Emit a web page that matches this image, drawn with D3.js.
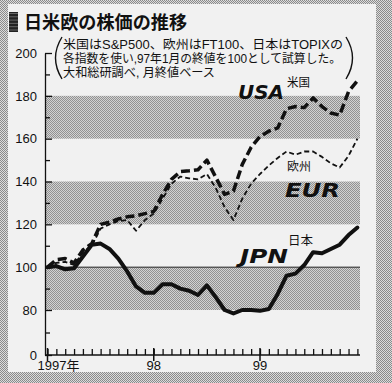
<!DOCTYPE html>
<html><head><meta charset="utf-8">
<script src="https://cdn.jsdelivr.net/npm/d3@7"></script>
<style>body{margin:0;background:#fff}svg{display:block}</style>
</head><body><svg id="c" width="392" height="383"></svg>
<script>
// ---- data ----
const months = ["97/01","97/02","97/03","97/04","97/05","97/06","97/07","97/08","97/09","97/10","97/11","97/12",
                "98/01","98/02","98/03","98/04","98/05","98/06","98/07","98/08","98/09","98/10","98/11","98/12",
                "99/01","99/02","99/03","99/04","99/05","99/06","99/07","99/08","99/09","99/10","99/11","99/12"];
const usa = [100,103.5,104,102,108,111,120,121,122.5,123.5,124,125,
             126,134,141,144.6,145,145.5,150,142,134,135.5,148,156,
             161,163.5,165,174,175,174.5,179,175,172,171,182,187];
const eur = [100,102,102.5,101,107,110,118,120,121.5,122,117,122,
             125,132,139,142.3,141.5,141,143.5,137,128,122,132,139,
             143.5,147.5,151,154,152.5,154,154,151.5,148.5,146.5,152,160];
const jpn = [100,100.5,99,99.5,105,110.5,111,108.5,104,98,91,88,
             88,92,92,90,89,87,91.5,86,80,74,80,80,
             78.5,80.5,87.5,96,97,101,107,106.5,108.5,110.5,115,118.5];
const yMajorTicks = [0,80,100,120,140,160,180,200];
const yMinorTicks = [40,90,110,130,150,170,190];
const yearTicks = ["97/01","98/01","99/01"];
const yearTickLabels = ["1997年","98","99"];
const shadedBands = [[80,100],[120,140],[160,180]];
const titleText = "日米欧の株価の推移";
const noteLines = ["米国はS&P500、欧州はFT100、日本はTOPIXの",
                   "各指数を使い,97年1月の終値を100として試算した。",
                   "大和総研調べ, 月終値ベース"];

// ---- drawing ----
const svg = d3.select("#c");
const W = 392, H = 383;
const plotL = 45, plotR = 360;
const paper = "#f1f1f1";

const defs = svg.append("defs");
const pat = defs.append("pattern").attr("id","ht").attr("width",2).attr("height",2)
  .attr("patternUnits","userSpaceOnUse");
pat.append("rect").attr("width",2).attr("height",2).attr("fill","#dcdcdc");
pat.append("rect").attr("width",1).attr("height",1).attr("fill","#8a8a8a");
pat.append("rect").attr("x",1).attr("y",1).attr("width",1).attr("height",1).attr("fill","#8a8a8a");
const pat2 = defs.append("pattern").attr("id","ht2").attr("width",2).attr("height",2)
  .attr("patternUnits","userSpaceOnUse");
pat2.append("rect").attr("width",2).attr("height",2).attr("fill","#d2d2d2");
pat2.append("rect").attr("width",1).attr("height",1).attr("fill","#929292");
pat2.append("rect").attr("x",1).attr("y",1).attr("width",1).attr("height",1).attr("fill","#929292");

// frame
svg.append("rect").attr("width",W).attr("height",H).attr("fill","url(#ht)");
svg.append("rect").attr("x",8).attr("y",4).attr("width",368).attr("height",368).attr("fill",paper);

const x = d3.scalePoint().domain(months).range([47.5, 357.4]);
const y = d3.scaleLinear().domain([0, 80, 200]).range([355, 310, 53]);

// bands
svg.append("g").selectAll("rect").data(shadedBands).join("rect")
  .attr("x", plotL).attr("width", plotR - plotL)
  .attr("y", d => y(d[1])).attr("height", d => y(d[0]) - y(d[1]))
  .attr("fill","url(#ht2)");

// 100 line
svg.append("line").attr("x1",plotL).attr("x2",plotR).attr("y1",y(100)).attr("y2",y(100))
  .attr("stroke","#222").attr("stroke-width",1);

// y axis
const yAxis = svg.append("g").attr("transform",`translate(${plotL},0)`)
  .call(d3.axisLeft(y).tickValues(yMajorTicks).tickSize(-7).tickSizeOuter(0).tickPadding(8)
        .tickFormat(d3.format("d")));
yAxis.selectAll("text").attr("font-family","Liberation Sans, Arial, sans-serif").attr("font-size",13).attr("fill","#111");
yAxis.selectAll("line,path").attr("stroke","#111").attr("stroke-width",1.3);
const yMinor = svg.append("g").attr("transform",`translate(${plotL},0)`)
  .call(d3.axisLeft(y).tickValues(yMinorTicks).tickSize(-5).tickSizeOuter(0).tickFormat(""));
yMinor.select(".domain").remove();
yMinor.selectAll("line").attr("stroke","#111").attr("stroke-width",1.3);

// x axis
const xAxis = svg.append("g").attr("transform",`translate(0,${y(0)})`)
  .call(d3.axisBottom(x).tickSize(-6).tickSizeOuter(0).tickFormat(""));
xAxis.select(".domain").remove();
xAxis.selectAll("line").attr("stroke","#111").attr("stroke-width",1.3);
svg.append("line").attr("x1",plotL).attr("x2",plotR).attr("y1",y(0)).attr("y2",y(0))
  .attr("stroke","#111").attr("stroke-width",1.3);
const yt = svg.append("g").selectAll("g").data(yearTicks).join("g");
yt.append("line").attr("x1",d=>x(d)).attr("x2",d=>x(d)).attr("y1",y(0)-7).attr("y2",y(0)+6)
  .attr("stroke","#111").attr("stroke-width",1.5);
yt.append("text").attr("x",(d,i)=>x(d) + (i===0 ? -10 : 0)).attr("y",y(0)+15)
  .attr("text-anchor",(d,i)=> i===0 ? "start" : "middle")
  .attr("font-family","Liberation Sans, Noto Sans CJK JP, sans-serif").attr("font-size",13).attr("fill","#111")
  .text((d,i)=>yearTickLabels[i]);

// series
const line = d3.line().x((d,i)=>x(months[i])).y(d=>y(d));
svg.append("path").datum(eur).attr("d",line).attr("fill","none").attr("stroke","#111")
  .attr("stroke-width",1.8).attr("stroke-dasharray","5,3").attr("stroke-linejoin","round");
svg.append("path").datum(usa).attr("d",line).attr("fill","none").attr("stroke","#111")
  .attr("stroke-width",3.5).attr("stroke-dasharray","9,4").attr("stroke-linejoin","round");
svg.append("path").datum(jpn).attr("d",line).attr("fill","none").attr("stroke","#111")
  .attr("stroke-width",4).attr("stroke-linejoin","round").attr("stroke-linecap","round");

// series labels
const jp = "Noto Sans CJK JP, sans-serif";
const mixed = "Liberation Sans, Noto Sans CJK JP, sans-serif";
const hand = "DejaVu Sans, sans-serif";
function lab(t, xx, yy, size, len, font, opts={}) {
  const e = svg.append("text").attr("x",xx).attr("y",yy).attr("font-family",font).attr("font-size",size)
    .attr("fill","#111").attr("textLength",len).attr("lengthAdjust","spacingAndGlyphs").text(t);
  if (opts.bold) e.attr("font-weight","bold");
  if (opts.italic) e.attr("font-style","italic");
  return e;
}
lab("米国", 287, 87, 12, 23, jp);
lab("USA", 238, 99, 20, 46, hand, {bold:true, italic:true});
lab("欧州", 287, 171, 12, 24, jp);
lab("EUR", 285, 197, 20, 55, hand, {bold:true, italic:true});
lab("日本", 288, 245, 12, 25, jp);
lab("JPN", 240, 263, 20, 48, hand, {bold:true, italic:true});

// title
svg.append("rect").attr("x",9).attr("y",12).attr("width",9).attr("height",20).attr("fill","#222");
for (let k = 0; k < 6; k++) svg.append("line").attr("x1",9).attr("x2",18)
  .attr("y1",13.5 + k*3.3).attr("y2",13.5 + k*3.3).attr("stroke","#777").attr("stroke-width",0.8);
lab(titleText, 24, 29, 18, 163, jp, {bold:true});

// note
const noteLen = [280, 278, 152];
noteLines.forEach((t,i) => lab(t, 63, 48.5 + i*14.2, 12.4, noteLen[i], mixed));
svg.append("path").attr("d","M62,37 Q49,58 62,79").attr("fill","none").attr("stroke","#111").attr("stroke-width",1.4);
svg.append("path").attr("d","M346,37 Q359,58 346,79").attr("fill","none").attr("stroke","#111").attr("stroke-width",1.4);
</script></body></html>
